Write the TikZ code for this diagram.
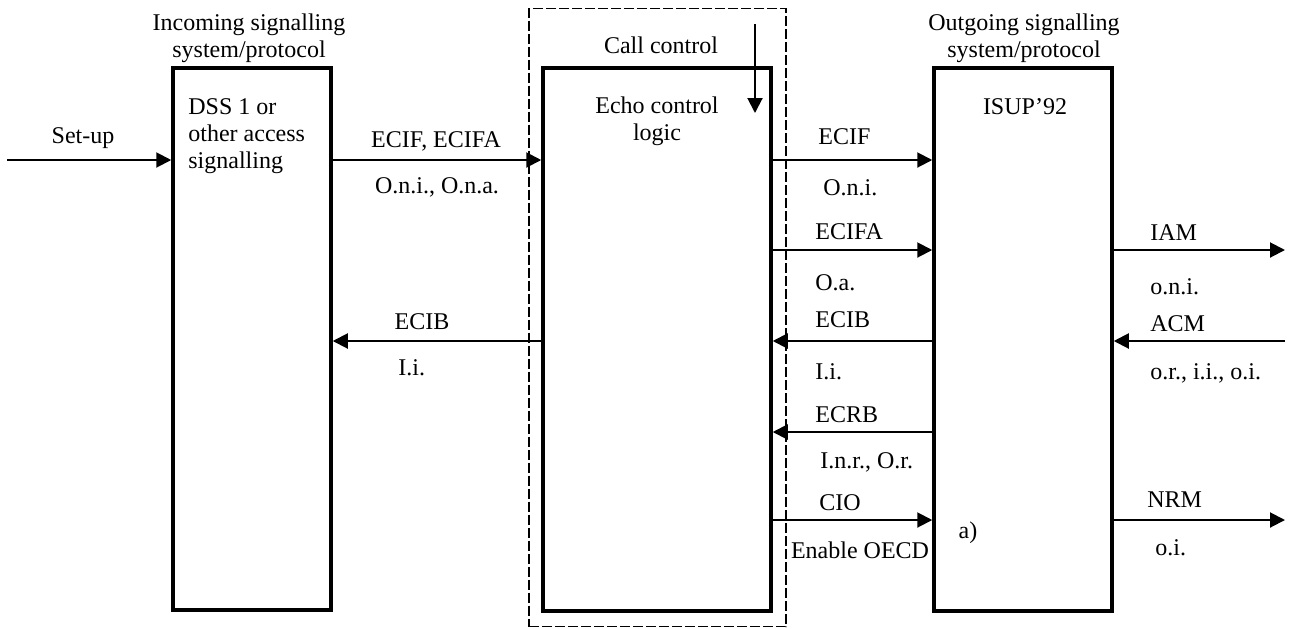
\documentclass[tikz,border=0pt]{standalone}
\usepackage{fontspec}
\setmainfont{Liberation Serif}
\usetikzlibrary{arrows.meta}
\tikzset{
  blk/.style={draw, line width=1.75pt, inner sep=0pt, fill=none},
  grp/.style={draw, line width=0.6pt, dash pattern=on 5pt off 1.5pt, inner sep=0pt},
  arr/.style={line width=1pt, -{Triangle[length=7.5pt,width=7.5pt]}},
  lbl/.style={inner sep=0pt, font=\fontsize{12}{13.5}\selectfont},
}
\begin{document}
\begin{tikzpicture}[x=0.5pt,y=-0.5pt]
\useasboundingbox (0,0) rectangle (1291,628);
% group and blocks
\node[grp, minimum width=128.5pt, minimum height=309pt] (cc) at (657.5,317.5) {};
\node[blk, minimum width=79pt, minimum height=271pt] (inc) at (252,339) {};
\node[blk, minimum width=114pt, minimum height=271.5pt] (mid) at (657,339.5) {};
\node[blk, minimum width=89pt, minimum height=271.5pt] (out) at (1023,339.5) {};
% titles and block texts
\node[lbl, align=center] (tinc) at (249,38) {Incoming signalling\\system/protocol};
\node[lbl, align=center] (tout) at (1024,38) {Outgoing signalling\\system/protocol};
\node[lbl] (tcc) at (661,45) {Call control};
\node[lbl, align=left, anchor=west] (dss) at (188,136) {DSS 1 or\\other access\\signalling};
\node[lbl, align=center] (ecl) at (657,121) {Echo control\\logic};
\node[lbl] (isup) at (1025,107) {ISUP’92};
\node[lbl] (na) at (968,533) {a)};
% row coordinates
\coordinate (r1) at (0,160);
\coordinate (r2) at (0,250);
\coordinate (r3) at (0,341);
\coordinate (r4) at (0,432);
\coordinate (r5) at (0,520);
\coordinate (su) at (7,160);
\coordinate (iamE) at (1285,250);
\coordinate (acmE) at (1285,341);
\coordinate (nrmE) at (1285,520);
\coordinate (dA) at (755,24);
\coordinate (dB) at (755,113);
% connectors
\draw[arr] (su) -- (inc.west |- su);
\draw[arr] (inc.east |- r1) -- (mid.west |- r1);
\draw[arr] (mid.west |- r3) -- (inc.east |- r3);
\draw[arr] (mid.east |- r1) -- (out.west |- r1);
\draw[arr] (mid.east |- r2) -- (out.west |- r2);
\draw[arr] (out.west |- r3) -- (mid.east |- r3);
\draw[arr] (out.west |- r4) -- (mid.east |- r4);
\draw[arr] (mid.east |- r5) -- (out.west |- r5);
\draw[arr] (out.east |- iamE) -- (iamE);
\draw[arr] (acmE) -- (out.east |- acmE);
\draw[arr] (out.east |- nrmE) -- (nrmE);
\draw[arr] (dA) -- (dB);
% connector labels
\node[lbl] (lsu) at (83,138) {Set-up};
\node[lbl] (l1a) at (436,141) {ECIF, ECIFA};
\node[lbl] (l1b) at (437,187) {O.n.i., O.n.a.};
\node[lbl] (l2a) at (422,322) {ECIB};
\node[lbl, anchor=west] (l2b) at (398,368) {I.i.};
\node[lbl, anchor=west] (m1a) at (818,137) {ECIF};
\node[lbl, anchor=west] (m1b) at (823,188) {O.n.i.};
\node[lbl, anchor=west] (m2a) at (815,232) {ECIFA};
\node[lbl, anchor=west] (m2b) at (815,283) {O.a.};
\node[lbl, anchor=west] (m3a) at (815,320) {ECIB};
\node[lbl, anchor=west] (m3b) at (815,372) {I.i.};
\node[lbl, anchor=west] (m4a) at (815,415) {ECRB};
\node[lbl, anchor=west] (m4b) at (820,462) {I.n.r., O.r.};
\node[lbl, anchor=west] (m5a) at (819,503) {CIO};
\node[lbl] (m5b) at (860,550) {Enable OECD};
\node[lbl, anchor=west] (o1a) at (1150,233) {IAM};
\node[lbl, anchor=west] (o1b) at (1150,287) {o.n.i.};
\node[lbl, anchor=west] (o2a) at (1150,324) {ACM};
\node[lbl, anchor=west] (o2b) at (1150,373) {o.r., i.i., o.i.};
\node[lbl, anchor=west] (o3a) at (1147,500) {NRM};
\node[lbl, anchor=west] (o3b) at (1155,548) {o.i.};
\end{tikzpicture}
\end{document}
